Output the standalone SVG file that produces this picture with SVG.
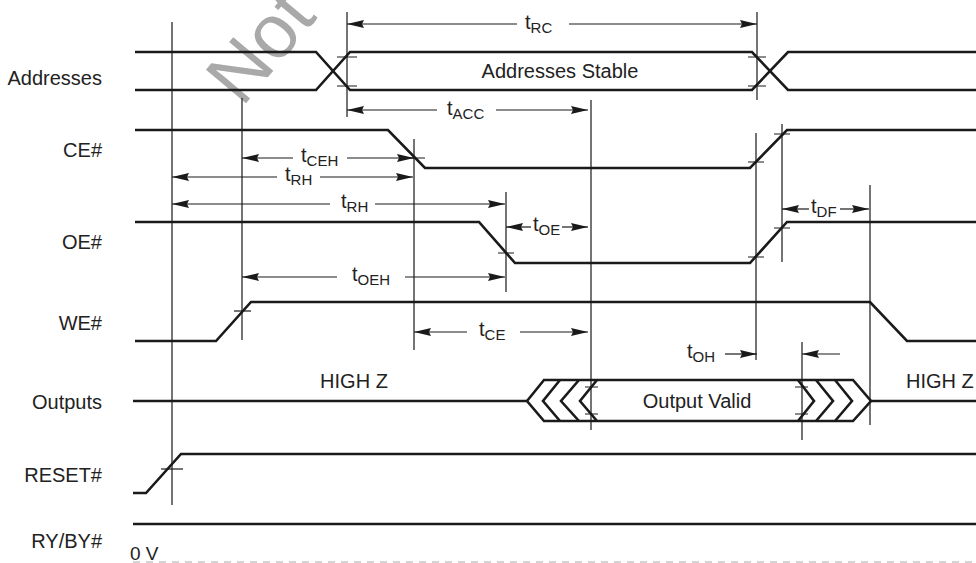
<svg xmlns="http://www.w3.org/2000/svg" width="976" height="563" viewBox="0 0 976 563">
<style>
text{font-family:"Liberation Sans",Arial,sans-serif;fill:#222}
.lbl{font-size:20px;text-anchor:end}
.t{font-size:20px}
.sub{font-size:15px}
.sig{fill:none;stroke:#1a1a1a;stroke-width:2.6;stroke-linejoin:miter}
.thin{fill:none;stroke:#1a1a1a;stroke-width:1.2}
.dim{fill:none;stroke:#1a1a1a;stroke-width:1.2}
.arr{marker-end:url(#ah)}
.arl{marker-start:url(#ah)}
.wm{font-size:76px;fill:#a9a9a9}
</style>
<defs>
<marker id="ah" viewBox="0 0 17 8" refX="17" refY="4" markerWidth="17" markerHeight="8" markerUnits="userSpaceOnUse" orient="auto-start-reverse">
<path d="M0,0 L17,4 L0,8 L2,4 Z" fill="#1a1a1a"/>
</marker>
</defs>
<rect width="976" height="563" fill="#fff"/>
<text class="wm" transform="translate(242,108) rotate(-50)">Not</text>

<g id="labels">
<text class="lbl" x="102" y="85">Addresses</text>
<text class="lbl" x="102" y="157">CE#</text>
<text class="lbl" x="102" y="249">OE#</text>
<text class="lbl" x="102" y="330">WE#</text>
<text class="lbl" x="102" y="409">Outputs</text>
<text class="lbl" x="102" y="482">RESET#</text>
<text class="lbl" x="102" y="548">RY/BY#</text>
</g>

<g id="addresses">
<path class="sig" d="M135,52 H316 L350,90 H752 L788,52 H976"/>
<path class="sig" d="M135,90 H316 L350,52 H752 L788,90 H976"/>
<path class="thin" d="M337,57 H357 M337,86 H357 M748,57 H766 M748,86 H766"/>
<text class="t" x="560" y="78" text-anchor="middle">Addresses Stable</text>
</g>

<g id="ce">
<path class="sig" d="M135,130 H388 L425,168 H750 L787,130 H976"/>
<path class="thin" d="M406,158 H425 M748,162 H764 M774,134 H790"/>
</g>

<g id="oe">
<path class="sig" d="M135,222 H479 L515,263 H750 L787,222 H976"/>
<path class="thin" d="M498,253 H514 M748,257 H764 M774,228 H790"/>
</g>

<g id="we">
<path class="sig" d="M135,341 H216 L251,302 H870 L907,341 H976"/>
<path class="thin" d="M234,311 H251"/>
</g>

<g id="outputs">
<path class="sig" d="M133,401 H527 M871,401 H976"/>
<path class="sig" d="M527,401 L544,380 H853 L871,401 L853,421 H544 Z"/>
<path class="sig" d="M560,380 L543,401 L560,421 M579,380 L561,401 L579,421 M597,380 L580,401 L597,421"/>
<path class="sig" d="M798,380 L814,401 L798,421 M816,380 L833,401 L816,421 M835,380 L852,401 L835,421"/>
<path class="thin" d="M585,387 H598 M585,414 H598 M795,387 H808 M795,414 H808"/>
<text class="t" x="354" y="388" text-anchor="middle">HIGH Z</text>
<text class="t" x="906" y="388">HIGH Z</text>
<text class="t" x="697" y="408" text-anchor="middle">Output Valid</text>
</g>

<g id="reset">
<path class="sig" d="M133,493 H146 L181,454 H976"/>
<path class="thin" d="M161,469 H183"/>
</g>

<g id="ryby">
<path class="sig" d="M133,524 H976"/>
<path d="M133,562 H976" stroke="#aaa" stroke-width="1.2" stroke-dasharray="7 6" fill="none"/>
<text x="130" y="560" style="font-size:19px">0 V</text>
</g>

<g id="connectors">
<path class="thin" d="M172,22 V505 M242,98 V340 M347,12 V117 M757,12 V100 M756,133 V360 M414,139 V350 M506,192 V292 M591,100 V430 M782,124 V262 M802,342 V440 M870,185 V425"/>
<path class="dim arl" d="M347,24 H517"/><path class="dim arr" d="M569,24 H757"/>
<path class="dim arl" d="M347,110 H437"/><path class="dim arr" d="M496,110 H588"/>
<path class="dim arl" d="M242,158 H293"/><path class="dim arr" d="M347,158 H414"/>
<path class="dim arl" d="M172,177 H277"/><path class="dim arr" d="M320,177 H413"/>
<path class="dim arl" d="M172,204 H330"/><path class="dim arr" d="M375,204 H505"/>
<path class="dim arl" d="M506,227 H531"/><path class="dim arr" d="M562,227 H588"/>
<path class="dim arl" d="M242,277 H337"/><path class="dim arr" d="M405,277 H505"/>
<path class="dim arl" d="M414,332 H467"/><path class="dim arr" d="M520,332 H588"/>
<path class="dim arr" d="M725,354 H757"/>
<path class="dim arr" d="M840,354 H802"/>
<path class="dim arl" d="M782,209 H809"/><path class="dim arr" d="M840,209 H869"/>
<text class="t" x="525" y="29">t<tspan class="sub" dy="4">RC</tspan></text>
<text class="t" x="447" y="115">t<tspan class="sub" dy="4">ACC</tspan></text>
<text class="t" x="301" y="162">t<tspan class="sub" dy="4">CEH</tspan></text>
<text class="t" x="285" y="181">t<tspan class="sub" dy="4">RH</tspan></text>
<text class="t" x="341" y="208">t<tspan class="sub" dy="4">RH</tspan></text>
<text class="t" x="533" y="231">t<tspan class="sub" dy="4">OE</tspan></text>
<text class="t" x="352" y="281">t<tspan class="sub" dy="4">OEH</tspan></text>
<text class="t" x="479" y="336">t<tspan class="sub" dy="4">CE</tspan></text>
<text class="t" x="687" y="358">t<tspan class="sub" dy="4">OH</tspan></text>
<text class="t" x="811" y="213">t<tspan class="sub" dy="4">DF</tspan></text>
</g>
</svg>
